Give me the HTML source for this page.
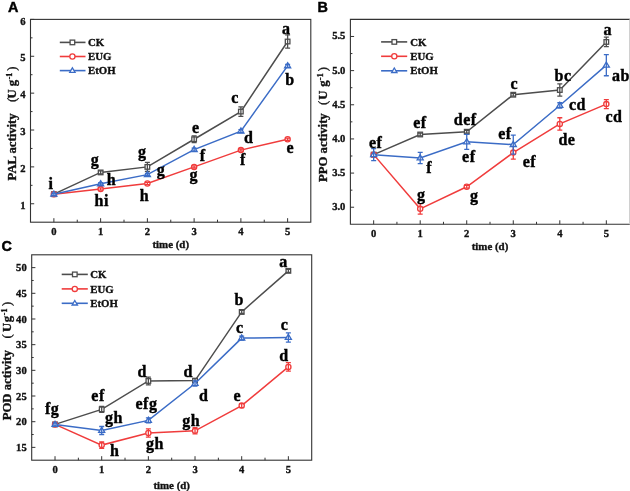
<!DOCTYPE html><html><head><meta charset="utf-8"><style>html,body{margin:0;padding:0;background:#fff;width:630px;height:491px;overflow:hidden}svg{display:block;will-change:transform}</style><style>.t{font-family:"Liberation Serif",serif;font-weight:bold;font-size:10.6px;fill:#111;stroke:#111;stroke-width:0.35px}.tt{font-family:"Liberation Serif",serif;font-weight:bold;font-size:10.9px;fill:#111;stroke:#111;stroke-width:0.35px}.lb{font-family:"Liberation Serif",serif;font-weight:bold;font-size:16px;fill:#000;stroke:#000;stroke-width:0.4px;letter-spacing:0.5px}.lg{font-family:"Liberation Serif",serif;font-weight:bold;font-size:10.8px;fill:#111;stroke:#111;stroke-width:0.35px}.yt{font-family:"Liberation Serif",serif;font-weight:bold;font-size:12.7px;fill:#111;stroke:#111;stroke-width:0.35px}.pl{font-family:"Liberation Sans",sans-serif;font-weight:bold;font-size:14.4px;fill:#000;stroke:#000;stroke-width:0.45px}</style></head><body>
<svg width="630" height="491" viewBox="0 0 630 491">
<rect width="630" height="491" fill="#fff"/>
<rect x="30.50" y="19.40" width="280.30" height="202.80" fill="none" stroke="#333333" stroke-width="1.1"/>
<line x1="53.88" y1="222.20" x2="53.88" y2="218.20" stroke="#333333" stroke-width="1"/>
<text x="53.88" y="234.80" text-anchor="middle" class="t">0</text>
<line x1="100.62" y1="222.20" x2="100.62" y2="218.20" stroke="#333333" stroke-width="1"/>
<text x="100.62" y="234.80" text-anchor="middle" class="t">1</text>
<line x1="147.38" y1="222.20" x2="147.38" y2="218.20" stroke="#333333" stroke-width="1"/>
<text x="147.38" y="234.80" text-anchor="middle" class="t">2</text>
<line x1="194.12" y1="222.20" x2="194.12" y2="218.20" stroke="#333333" stroke-width="1"/>
<text x="194.12" y="234.80" text-anchor="middle" class="t">3</text>
<line x1="240.88" y1="222.20" x2="240.88" y2="218.20" stroke="#333333" stroke-width="1"/>
<text x="240.88" y="234.80" text-anchor="middle" class="t">4</text>
<line x1="287.62" y1="222.20" x2="287.62" y2="218.20" stroke="#333333" stroke-width="1"/>
<text x="287.62" y="234.80" text-anchor="middle" class="t">5</text>
<line x1="77.25" y1="222.20" x2="77.25" y2="219.70" stroke="#333333" stroke-width="1"/>
<line x1="124.00" y1="222.20" x2="124.00" y2="219.70" stroke="#333333" stroke-width="1"/>
<line x1="170.75" y1="222.20" x2="170.75" y2="219.70" stroke="#333333" stroke-width="1"/>
<line x1="217.50" y1="222.20" x2="217.50" y2="219.70" stroke="#333333" stroke-width="1"/>
<line x1="264.25" y1="222.20" x2="264.25" y2="219.70" stroke="#333333" stroke-width="1"/>
<line x1="30.50" y1="203.76" x2="34.20" y2="203.76" stroke="#333333" stroke-width="1"/>
<text x="25.50" y="208.96" text-anchor="end" class="t">1</text>
<line x1="30.50" y1="166.89" x2="34.20" y2="166.89" stroke="#333333" stroke-width="1"/>
<text x="25.50" y="172.09" text-anchor="end" class="t">2</text>
<line x1="30.50" y1="130.02" x2="34.20" y2="130.02" stroke="#333333" stroke-width="1"/>
<text x="25.50" y="135.22" text-anchor="end" class="t">3</text>
<line x1="30.50" y1="93.15" x2="34.20" y2="93.15" stroke="#333333" stroke-width="1"/>
<text x="25.50" y="98.35" text-anchor="end" class="t">4</text>
<line x1="30.50" y1="56.27" x2="34.20" y2="56.27" stroke="#333333" stroke-width="1"/>
<text x="25.50" y="61.47" text-anchor="end" class="t">5</text>
<line x1="30.50" y1="19.40" x2="34.20" y2="19.40" stroke="#333333" stroke-width="1"/>
<text x="25.50" y="24.60" text-anchor="end" class="t">6</text>
<line x1="30.50" y1="185.33" x2="32.50" y2="185.33" stroke="#333333" stroke-width="1"/>
<line x1="30.50" y1="148.45" x2="32.50" y2="148.45" stroke="#333333" stroke-width="1"/>
<line x1="30.50" y1="111.58" x2="32.50" y2="111.58" stroke="#333333" stroke-width="1"/>
<line x1="30.50" y1="74.71" x2="32.50" y2="74.71" stroke="#333333" stroke-width="1"/>
<line x1="30.50" y1="37.84" x2="32.50" y2="37.84" stroke="#333333" stroke-width="1"/>
<text x="170.75" y="247.70" text-anchor="middle" class="tt">time (d)</text>
<path d="M53.88 194.18 L100.62 172.42 L147.38 166.89 L194.12 139.24 L240.88 111.58 L287.62 41.52" fill="none" stroke="#4d4d4d" stroke-width="1.5"/>
<rect x="51.58" y="191.88" width="4.60" height="4.60" fill="#fff" stroke="#4d4d4d" stroke-width="1.3"/>
<rect x="98.33" y="170.12" width="4.60" height="4.60" fill="#fff" stroke="#4d4d4d" stroke-width="1.3"/>
<rect x="145.07" y="164.59" width="4.60" height="4.60" fill="#fff" stroke="#4d4d4d" stroke-width="1.3"/>
<rect x="191.82" y="136.94" width="4.60" height="4.60" fill="#fff" stroke="#4d4d4d" stroke-width="1.3"/>
<rect x="238.57" y="109.28" width="4.60" height="4.60" fill="#fff" stroke="#4d4d4d" stroke-width="1.3"/>
<rect x="285.32" y="39.22" width="4.60" height="4.60" fill="#fff" stroke="#4d4d4d" stroke-width="1.3"/>
<path d="M53.88 193.07V195.28M51.38 193.07H56.38M51.38 195.28H56.38" stroke="#4d4d4d" stroke-width="1.3" fill="none"/>
<path d="M100.62 170.95V173.90M98.12 170.95H103.12M98.12 173.90H103.12" stroke="#4d4d4d" stroke-width="1.3" fill="none"/>
<path d="M147.38 162.28V171.50M144.88 162.28H149.88M144.88 171.50H149.88" stroke="#4d4d4d" stroke-width="1.3" fill="none"/>
<path d="M194.12 135.92V142.55M191.62 135.92H196.62M191.62 142.55H196.62" stroke="#4d4d4d" stroke-width="1.3" fill="none"/>
<path d="M240.88 106.79V116.38M238.38 106.79H243.38M238.38 116.38H243.38" stroke="#4d4d4d" stroke-width="1.3" fill="none"/>
<path d="M287.62 34.89V48.16M285.12 34.89H290.12M285.12 48.16H290.12" stroke="#4d4d4d" stroke-width="1.3" fill="none"/>
<path d="M53.88 194.18 L100.62 189.01 L147.38 183.48 L194.12 166.89 L240.88 150.11 L287.62 139.24" fill="none" stroke="#f03c3c" stroke-width="1.5"/>
<circle cx="53.88" cy="194.18" r="2.60" fill="#fff" stroke="#f03c3c" stroke-width="1.3"/>
<circle cx="100.62" cy="189.01" r="2.60" fill="#fff" stroke="#f03c3c" stroke-width="1.3"/>
<circle cx="147.38" cy="183.48" r="2.60" fill="#fff" stroke="#f03c3c" stroke-width="1.3"/>
<circle cx="194.12" cy="166.89" r="2.60" fill="#fff" stroke="#f03c3c" stroke-width="1.3"/>
<circle cx="240.88" cy="150.11" r="2.60" fill="#fff" stroke="#f03c3c" stroke-width="1.3"/>
<circle cx="287.62" cy="139.24" r="2.60" fill="#fff" stroke="#f03c3c" stroke-width="1.3"/>
<path d="M53.88 193.07V195.28M51.38 193.07H56.38M51.38 195.28H56.38" stroke="#f03c3c" stroke-width="1.3" fill="none"/>
<path d="M100.62 187.91V190.12M98.12 187.91H103.12M98.12 190.12H103.12" stroke="#f03c3c" stroke-width="1.3" fill="none"/>
<path d="M147.38 182.38V184.59M144.88 182.38H149.88M144.88 184.59H149.88" stroke="#f03c3c" stroke-width="1.3" fill="none"/>
<path d="M194.12 165.78V168.00M191.62 165.78H196.62M191.62 168.00H196.62" stroke="#f03c3c" stroke-width="1.3" fill="none"/>
<path d="M240.88 149.01V151.22M238.38 149.01H243.38M238.38 151.22H243.38" stroke="#f03c3c" stroke-width="1.3" fill="none"/>
<path d="M287.62 138.13V140.34M285.12 138.13H290.12M285.12 140.34H290.12" stroke="#f03c3c" stroke-width="1.3" fill="none"/>
<path d="M53.88 194.18 L100.62 183.85 L147.38 174.63 L194.12 149.56 L240.88 131.12 L287.62 65.86" fill="none" stroke="#3b6cc6" stroke-width="1.5"/>
<path d="M53.88 190.98L56.91 196.10L50.84 196.10Z" fill="#fff" stroke="#3b6cc6" stroke-width="1.3"/>
<path d="M100.62 180.65L103.67 185.77L97.58 185.77Z" fill="#fff" stroke="#3b6cc6" stroke-width="1.3"/>
<path d="M147.38 171.43L150.41 176.55L144.34 176.55Z" fill="#fff" stroke="#3b6cc6" stroke-width="1.3"/>
<path d="M194.12 146.36L197.16 151.48L191.09 151.48Z" fill="#fff" stroke="#3b6cc6" stroke-width="1.3"/>
<path d="M240.88 127.92L243.91 133.04L237.84 133.04Z" fill="#fff" stroke="#3b6cc6" stroke-width="1.3"/>
<path d="M287.62 62.66L290.67 67.78L284.58 67.78Z" fill="#fff" stroke="#3b6cc6" stroke-width="1.3"/>
<path d="M53.88 193.07V195.28M51.38 193.07H56.38M51.38 195.28H56.38" stroke="#3b6cc6" stroke-width="1.3" fill="none"/>
<path d="M100.62 182.75V184.96M98.12 182.75H103.12M98.12 184.96H103.12" stroke="#3b6cc6" stroke-width="1.3" fill="none"/>
<path d="M147.38 173.53V175.74M144.88 173.53H149.88M144.88 175.74H149.88" stroke="#3b6cc6" stroke-width="1.3" fill="none"/>
<path d="M194.12 148.09V151.04M191.62 148.09H196.62M191.62 151.04H196.62" stroke="#3b6cc6" stroke-width="1.3" fill="none"/>
<path d="M240.88 129.65V132.60M238.38 129.65H243.38M238.38 132.60H243.38" stroke="#3b6cc6" stroke-width="1.3" fill="none"/>
<path d="M287.62 64.38V67.33M285.12 64.38H290.12M285.12 67.33H290.12" stroke="#3b6cc6" stroke-width="1.3" fill="none"/>
<text x="51.10" y="188.55" text-anchor="middle" class="lb">i</text>
<text x="94.95" y="165.14" text-anchor="middle" class="lb">g</text>
<text x="111.35" y="184.75" text-anchor="middle" class="lb">h</text>
<text x="101.70" y="206.15" text-anchor="middle" class="lb">hi</text>
<text x="142.25" y="157.24" text-anchor="middle" class="lb">g</text>
<text x="161.05" y="175.09" text-anchor="middle" class="lb">g</text>
<text x="144.50" y="200.85" text-anchor="middle" class="lb">h</text>
<text x="195.85" y="132.94" text-anchor="middle" class="lb">e</text>
<text x="202.70" y="160.53" text-anchor="middle" class="lb">f</text>
<text x="193.85" y="179.64" text-anchor="middle" class="lb">g</text>
<text x="235.00" y="102.95" text-anchor="middle" class="lb">c</text>
<text x="248.75" y="142.72" text-anchor="middle" class="lb">d</text>
<text x="242.80" y="165.33" text-anchor="middle" class="lb">f</text>
<text x="286.30" y="33.72" text-anchor="middle" class="lb">a</text>
<text x="289.90" y="85.47" text-anchor="middle" class="lb">b</text>
<text x="290.40" y="152.84" text-anchor="middle" class="lb">e</text>
<line x1="59.80" y1="42.40" x2="85.50" y2="42.40" stroke="#4d4d4d" stroke-width="1.6"/>
<rect x="70.10" y="40.10" width="4.60" height="4.60" fill="#fff" stroke="#4d4d4d" stroke-width="1.3"/>
<text x="88.00" y="46.00" class="lg">CK</text>
<line x1="59.80" y1="56.50" x2="85.50" y2="56.50" stroke="#f03c3c" stroke-width="1.6"/>
<circle cx="72.40" cy="56.50" r="2.60" fill="#fff" stroke="#f03c3c" stroke-width="1.3"/>
<text x="88.00" y="60.10" class="lg">EUG</text>
<line x1="59.80" y1="70.60" x2="85.50" y2="70.60" stroke="#3b6cc6" stroke-width="1.6"/>
<path d="M72.40 67.80L75.06 72.28L69.74 72.28Z" fill="#fff" stroke="#3b6cc6" stroke-width="1.3"/>
<text x="88.00" y="74.20" class="lg">EtOH</text>
<text transform="translate(15.80,180.40) rotate(-90)" class="yt">PAL activity<tspan dx="11.3" font-weight="normal">(</tspan><tspan dx="-0.6">U</tspan><tspan dx="3.05">g</tspan><tspan dy="-4" dx="0.5" font-size="8">-1</tspan><tspan dy="4" dx="2" font-weight="normal">)</tspan></text>
<text x="7.90" y="12.00" class="pl">A</text>
<path d="M630.50 19.40H350.40V224.30H630.5" fill="none" stroke="#333333" stroke-width="1.1"/>
<line x1="629.5" y1="19.40" x2="629.5" y2="224.30" stroke="#d0d0d0" stroke-width="1"/>
<line x1="373.67" y1="224.30" x2="373.67" y2="220.30" stroke="#333333" stroke-width="1"/>
<text x="373.67" y="236.90" text-anchor="middle" class="t">0</text>
<line x1="420.20" y1="224.30" x2="420.20" y2="220.30" stroke="#333333" stroke-width="1"/>
<text x="420.20" y="236.90" text-anchor="middle" class="t">1</text>
<line x1="466.73" y1="224.30" x2="466.73" y2="220.30" stroke="#333333" stroke-width="1"/>
<text x="466.73" y="236.90" text-anchor="middle" class="t">2</text>
<line x1="513.27" y1="224.30" x2="513.27" y2="220.30" stroke="#333333" stroke-width="1"/>
<text x="513.27" y="236.90" text-anchor="middle" class="t">3</text>
<line x1="559.80" y1="224.30" x2="559.80" y2="220.30" stroke="#333333" stroke-width="1"/>
<text x="559.80" y="236.90" text-anchor="middle" class="t">4</text>
<line x1="606.33" y1="224.30" x2="606.33" y2="220.30" stroke="#333333" stroke-width="1"/>
<text x="606.33" y="236.90" text-anchor="middle" class="t">5</text>
<line x1="396.93" y1="224.30" x2="396.93" y2="221.80" stroke="#333333" stroke-width="1"/>
<line x1="443.47" y1="224.30" x2="443.47" y2="221.80" stroke="#333333" stroke-width="1"/>
<line x1="490.00" y1="224.30" x2="490.00" y2="221.80" stroke="#333333" stroke-width="1"/>
<line x1="536.53" y1="224.30" x2="536.53" y2="221.80" stroke="#333333" stroke-width="1"/>
<line x1="583.07" y1="224.30" x2="583.07" y2="221.80" stroke="#333333" stroke-width="1"/>
<line x1="350.40" y1="207.23" x2="354.10" y2="207.23" stroke="#333333" stroke-width="1"/>
<text x="345.40" y="210.23" text-anchor="end" class="t">3.0</text>
<line x1="350.40" y1="173.08" x2="354.10" y2="173.08" stroke="#333333" stroke-width="1"/>
<text x="345.40" y="176.08" text-anchor="end" class="t">3.5</text>
<line x1="350.40" y1="138.93" x2="354.10" y2="138.93" stroke="#333333" stroke-width="1"/>
<text x="345.40" y="141.93" text-anchor="end" class="t">4.0</text>
<line x1="350.40" y1="104.78" x2="354.10" y2="104.78" stroke="#333333" stroke-width="1"/>
<text x="345.40" y="107.78" text-anchor="end" class="t">4.5</text>
<line x1="350.40" y1="70.62" x2="354.10" y2="70.62" stroke="#333333" stroke-width="1"/>
<text x="345.40" y="73.62" text-anchor="end" class="t">5.0</text>
<line x1="350.40" y1="36.48" x2="354.10" y2="36.48" stroke="#333333" stroke-width="1"/>
<text x="345.40" y="39.48" text-anchor="end" class="t">5.5</text>
<line x1="350.40" y1="190.15" x2="352.40" y2="190.15" stroke="#333333" stroke-width="1"/>
<line x1="350.40" y1="156.00" x2="352.40" y2="156.00" stroke="#333333" stroke-width="1"/>
<line x1="350.40" y1="121.85" x2="352.40" y2="121.85" stroke="#333333" stroke-width="1"/>
<line x1="350.40" y1="87.70" x2="352.40" y2="87.70" stroke="#333333" stroke-width="1"/>
<line x1="350.40" y1="53.55" x2="352.40" y2="53.55" stroke="#333333" stroke-width="1"/>
<text x="490.00" y="250.20" text-anchor="middle" class="tt">time (d)</text>
<path d="M373.67 154.63 L420.20 134.49 L466.73 131.75 L513.27 94.73 L559.80 90.02 L606.33 41.94" fill="none" stroke="#4d4d4d" stroke-width="1.5"/>
<rect x="371.37" y="152.33" width="4.60" height="4.60" fill="#fff" stroke="#4d4d4d" stroke-width="1.3"/>
<rect x="417.90" y="132.19" width="4.60" height="4.60" fill="#fff" stroke="#4d4d4d" stroke-width="1.3"/>
<rect x="464.43" y="129.45" width="4.60" height="4.60" fill="#fff" stroke="#4d4d4d" stroke-width="1.3"/>
<rect x="510.97" y="92.43" width="4.60" height="4.60" fill="#fff" stroke="#4d4d4d" stroke-width="1.3"/>
<rect x="557.50" y="87.72" width="4.60" height="4.60" fill="#fff" stroke="#4d4d4d" stroke-width="1.3"/>
<rect x="604.03" y="39.64" width="4.60" height="4.60" fill="#fff" stroke="#4d4d4d" stroke-width="1.3"/>
<path d="M373.67 152.59V156.68M371.17 152.59H376.17M371.17 156.68H376.17" stroke="#4d4d4d" stroke-width="1.3" fill="none"/>
<path d="M420.20 133.12V135.85M417.70 133.12H422.70M417.70 135.85H422.70" stroke="#4d4d4d" stroke-width="1.3" fill="none"/>
<path d="M466.73 130.39V133.12M464.23 130.39H469.23M464.23 133.12H469.23" stroke="#4d4d4d" stroke-width="1.3" fill="none"/>
<path d="M513.27 93.37V96.10M510.77 93.37H515.77M510.77 96.10H515.77" stroke="#4d4d4d" stroke-width="1.3" fill="none"/>
<path d="M559.80 83.88V96.17M557.30 83.88H562.30M557.30 96.17H562.30" stroke="#4d4d4d" stroke-width="1.3" fill="none"/>
<path d="M606.33 37.16V46.72M603.83 37.16H608.83M603.83 46.72H608.83" stroke="#4d4d4d" stroke-width="1.3" fill="none"/>
<path d="M373.67 154.63 L420.20 208.86 L466.73 186.74 L513.27 152.59 L559.80 123.90 L606.33 104.09" fill="none" stroke="#f03c3c" stroke-width="1.5"/>
<circle cx="373.67" cy="154.63" r="2.60" fill="#fff" stroke="#f03c3c" stroke-width="1.3"/>
<circle cx="420.20" cy="208.86" r="2.60" fill="#fff" stroke="#f03c3c" stroke-width="1.3"/>
<circle cx="466.73" cy="186.74" r="2.60" fill="#fff" stroke="#f03c3c" stroke-width="1.3"/>
<circle cx="513.27" cy="152.59" r="2.60" fill="#fff" stroke="#f03c3c" stroke-width="1.3"/>
<circle cx="559.80" cy="123.90" r="2.60" fill="#fff" stroke="#f03c3c" stroke-width="1.3"/>
<circle cx="606.33" cy="104.09" r="2.60" fill="#fff" stroke="#f03c3c" stroke-width="1.3"/>
<path d="M373.67 152.59V156.68M371.17 152.59H376.17M371.17 156.68H376.17" stroke="#f03c3c" stroke-width="1.3" fill="none"/>
<path d="M420.20 203.54V214.19M417.70 203.54H422.70M417.70 214.19H422.70" stroke="#f03c3c" stroke-width="1.3" fill="none"/>
<path d="M466.73 185.37V188.10M464.23 185.37H469.23M464.23 188.10H469.23" stroke="#f03c3c" stroke-width="1.3" fill="none"/>
<path d="M513.27 145.96V159.21M510.77 145.96H515.77M510.77 159.21H515.77" stroke="#f03c3c" stroke-width="1.3" fill="none"/>
<path d="M559.80 117.75V130.05M557.30 117.75H562.30M557.30 130.05H562.30" stroke="#f03c3c" stroke-width="1.3" fill="none"/>
<path d="M606.33 99.58V108.60M603.83 99.58H608.83M603.83 108.60H608.83" stroke="#f03c3c" stroke-width="1.3" fill="none"/>
<path d="M373.67 154.63 L420.20 158.05 L466.73 141.86 L513.27 144.59 L559.80 105.46 L606.33 65.16" fill="none" stroke="#3b6cc6" stroke-width="1.5"/>
<path d="M373.67 151.43L376.71 156.55L370.63 156.55Z" fill="#fff" stroke="#3b6cc6" stroke-width="1.3"/>
<path d="M420.20 154.85L423.24 159.97L417.16 159.97Z" fill="#fff" stroke="#3b6cc6" stroke-width="1.3"/>
<path d="M466.73 138.66L469.77 143.78L463.69 143.78Z" fill="#fff" stroke="#3b6cc6" stroke-width="1.3"/>
<path d="M513.27 141.39L516.31 146.51L510.23 146.51Z" fill="#fff" stroke="#3b6cc6" stroke-width="1.3"/>
<path d="M559.80 102.26L562.84 107.38L556.76 107.38Z" fill="#fff" stroke="#3b6cc6" stroke-width="1.3"/>
<path d="M606.33 61.96L609.37 67.08L603.29 67.08Z" fill="#fff" stroke="#3b6cc6" stroke-width="1.3"/>
<path d="M373.67 148.69V160.58M371.17 148.69H376.17M371.17 160.58H376.17" stroke="#3b6cc6" stroke-width="1.3" fill="none"/>
<path d="M420.20 152.45V163.65M417.70 152.45H422.70M417.70 163.65H422.70" stroke="#3b6cc6" stroke-width="1.3" fill="none"/>
<path d="M466.73 134.35V149.37M464.23 134.35H469.23M464.23 149.37H469.23" stroke="#3b6cc6" stroke-width="1.3" fill="none"/>
<path d="M513.27 135.03V154.16M510.77 135.03H515.77M510.77 154.16H515.77" stroke="#3b6cc6" stroke-width="1.3" fill="none"/>
<path d="M559.80 102.73V108.19M557.30 102.73H562.30M557.30 108.19H562.30" stroke="#3b6cc6" stroke-width="1.3" fill="none"/>
<path d="M606.33 54.57V75.75M603.83 54.57H608.83M603.83 75.75H608.83" stroke="#3b6cc6" stroke-width="1.3" fill="none"/>
<text x="375.60" y="148.46" text-anchor="middle" class="lb">ef</text>
<text x="419.85" y="128.06" text-anchor="middle" class="lb">ef</text>
<text x="429.10" y="173.48" text-anchor="middle" class="lb">f</text>
<text x="421.25" y="199.94" text-anchor="middle" class="lb">g</text>
<text x="465.20" y="124.90" text-anchor="middle" class="lb">def</text>
<text x="468.75" y="161.56" text-anchor="middle" class="lb">ef</text>
<text x="474.25" y="201.04" text-anchor="middle" class="lb">g</text>
<text x="514.30" y="89.20" text-anchor="middle" class="lb">c</text>
<text x="504.85" y="139.16" text-anchor="middle" class="lb">ef</text>
<text x="529.35" y="166.86" text-anchor="middle" class="lb">ef</text>
<text x="563.00" y="81.07" text-anchor="middle" class="lb">bc</text>
<text x="577.50" y="110.47" text-anchor="middle" class="lb">cd</text>
<text x="566.95" y="145.12" text-anchor="middle" class="lb">de</text>
<text x="607.80" y="35.02" text-anchor="middle" class="lb">a</text>
<text x="620.85" y="80.82" text-anchor="middle" class="lb">ab</text>
<text x="613.95" y="122.12" text-anchor="middle" class="lb">cd</text>
<line x1="381.10" y1="41.90" x2="407.20" y2="41.90" stroke="#4d4d4d" stroke-width="1.6"/>
<rect x="392.00" y="39.60" width="4.60" height="4.60" fill="#fff" stroke="#4d4d4d" stroke-width="1.3"/>
<text x="410.30" y="45.50" class="lg">CK</text>
<line x1="381.10" y1="56.30" x2="407.20" y2="56.30" stroke="#f03c3c" stroke-width="1.6"/>
<circle cx="394.30" cy="56.30" r="2.60" fill="#fff" stroke="#f03c3c" stroke-width="1.3"/>
<text x="410.30" y="59.90" class="lg">EUG</text>
<line x1="381.10" y1="70.80" x2="407.20" y2="70.80" stroke="#3b6cc6" stroke-width="1.6"/>
<path d="M394.30 68.00L396.96 72.48L391.64 72.48Z" fill="#fff" stroke="#3b6cc6" stroke-width="1.3"/>
<text x="410.30" y="74.40" class="lg">EtOH</text>
<text transform="translate(327.40,182.00) rotate(-90)" class="yt">PPO activity<tspan dx="8.3" font-weight="normal">(</tspan><tspan dx="1.0">U</tspan><tspan dx="3.75">g</tspan><tspan dy="-4" dx="0.5" font-size="8">-1</tspan><tspan dy="4" dx="2" font-weight="normal">)</tspan></text>
<text x="317.60" y="12.00" class="pl">B</text>
<rect x="31.70" y="254.80" width="280.00" height="205.40" fill="none" stroke="#333333" stroke-width="1.1"/>
<line x1="55.03" y1="460.20" x2="55.03" y2="456.20" stroke="#333333" stroke-width="1"/>
<text x="55.03" y="472.80" text-anchor="middle" class="t">0</text>
<line x1="101.70" y1="460.20" x2="101.70" y2="456.20" stroke="#333333" stroke-width="1"/>
<text x="101.70" y="472.80" text-anchor="middle" class="t">1</text>
<line x1="148.37" y1="460.20" x2="148.37" y2="456.20" stroke="#333333" stroke-width="1"/>
<text x="148.37" y="472.80" text-anchor="middle" class="t">2</text>
<line x1="195.03" y1="460.20" x2="195.03" y2="456.20" stroke="#333333" stroke-width="1"/>
<text x="195.03" y="472.80" text-anchor="middle" class="t">3</text>
<line x1="241.70" y1="460.20" x2="241.70" y2="456.20" stroke="#333333" stroke-width="1"/>
<text x="241.70" y="472.80" text-anchor="middle" class="t">4</text>
<line x1="288.37" y1="460.20" x2="288.37" y2="456.20" stroke="#333333" stroke-width="1"/>
<text x="288.37" y="472.80" text-anchor="middle" class="t">5</text>
<line x1="78.37" y1="460.20" x2="78.37" y2="457.70" stroke="#333333" stroke-width="1"/>
<line x1="125.03" y1="460.20" x2="125.03" y2="457.70" stroke="#333333" stroke-width="1"/>
<line x1="171.70" y1="460.20" x2="171.70" y2="457.70" stroke="#333333" stroke-width="1"/>
<line x1="218.37" y1="460.20" x2="218.37" y2="457.70" stroke="#333333" stroke-width="1"/>
<line x1="265.03" y1="460.20" x2="265.03" y2="457.70" stroke="#333333" stroke-width="1"/>
<line x1="31.70" y1="447.36" x2="35.40" y2="447.36" stroke="#333333" stroke-width="1"/>
<text x="26.70" y="451.16" text-anchor="end" class="t">15</text>
<line x1="31.70" y1="421.69" x2="35.40" y2="421.69" stroke="#333333" stroke-width="1"/>
<text x="26.70" y="425.49" text-anchor="end" class="t">20</text>
<line x1="31.70" y1="396.01" x2="35.40" y2="396.01" stroke="#333333" stroke-width="1"/>
<text x="26.70" y="399.81" text-anchor="end" class="t">25</text>
<line x1="31.70" y1="370.34" x2="35.40" y2="370.34" stroke="#333333" stroke-width="1"/>
<text x="26.70" y="374.14" text-anchor="end" class="t">30</text>
<line x1="31.70" y1="344.66" x2="35.40" y2="344.66" stroke="#333333" stroke-width="1"/>
<text x="26.70" y="348.46" text-anchor="end" class="t">35</text>
<line x1="31.70" y1="318.99" x2="35.40" y2="318.99" stroke="#333333" stroke-width="1"/>
<text x="26.70" y="322.79" text-anchor="end" class="t">40</text>
<line x1="31.70" y1="293.31" x2="35.40" y2="293.31" stroke="#333333" stroke-width="1"/>
<text x="26.70" y="297.11" text-anchor="end" class="t">45</text>
<line x1="31.70" y1="267.64" x2="35.40" y2="267.64" stroke="#333333" stroke-width="1"/>
<text x="26.70" y="271.44" text-anchor="end" class="t">50</text>
<line x1="31.70" y1="434.52" x2="33.70" y2="434.52" stroke="#333333" stroke-width="1"/>
<line x1="31.70" y1="408.85" x2="33.70" y2="408.85" stroke="#333333" stroke-width="1"/>
<line x1="31.70" y1="383.18" x2="33.70" y2="383.18" stroke="#333333" stroke-width="1"/>
<line x1="31.70" y1="357.50" x2="33.70" y2="357.50" stroke="#333333" stroke-width="1"/>
<line x1="31.70" y1="331.82" x2="33.70" y2="331.82" stroke="#333333" stroke-width="1"/>
<line x1="31.70" y1="306.15" x2="33.70" y2="306.15" stroke="#333333" stroke-width="1"/>
<line x1="31.70" y1="280.48" x2="33.70" y2="280.48" stroke="#333333" stroke-width="1"/>
<text x="171.70" y="488.60" text-anchor="middle" class="tt">time (d)</text>
<path d="M55.03 424.41 L101.70 409.36 L148.37 380.97 L195.03 380.61 L241.70 311.95 L288.37 270.87" fill="none" stroke="#4d4d4d" stroke-width="1.5"/>
<rect x="52.73" y="422.11" width="4.60" height="4.60" fill="#fff" stroke="#4d4d4d" stroke-width="1.3"/>
<rect x="99.40" y="407.06" width="4.60" height="4.60" fill="#fff" stroke="#4d4d4d" stroke-width="1.3"/>
<rect x="146.07" y="378.67" width="4.60" height="4.60" fill="#fff" stroke="#4d4d4d" stroke-width="1.3"/>
<rect x="192.73" y="378.31" width="4.60" height="4.60" fill="#fff" stroke="#4d4d4d" stroke-width="1.3"/>
<rect x="239.40" y="309.65" width="4.60" height="4.60" fill="#fff" stroke="#4d4d4d" stroke-width="1.3"/>
<rect x="286.07" y="268.57" width="4.60" height="4.60" fill="#fff" stroke="#4d4d4d" stroke-width="1.3"/>
<path d="M55.03 422.87V425.95M52.53 422.87H57.53M52.53 425.95H57.53" stroke="#4d4d4d" stroke-width="1.3" fill="none"/>
<path d="M101.70 406.28V412.44M99.20 406.28H104.20M99.20 412.44H104.20" stroke="#4d4d4d" stroke-width="1.3" fill="none"/>
<path d="M148.37 377.12V384.82M145.87 377.12H150.87M145.87 384.82H150.87" stroke="#4d4d4d" stroke-width="1.3" fill="none"/>
<path d="M195.03 378.55V382.66M192.53 378.55H197.53M192.53 382.66H197.53" stroke="#4d4d4d" stroke-width="1.3" fill="none"/>
<path d="M241.70 310.41V313.49M239.20 310.41H244.20M239.20 313.49H244.20" stroke="#4d4d4d" stroke-width="1.3" fill="none"/>
<path d="M288.37 269.33V272.41M285.87 269.33H290.87M285.87 272.41H290.87" stroke="#4d4d4d" stroke-width="1.3" fill="none"/>
<path d="M55.03 424.41 L101.70 445.10 L148.37 432.93 L195.03 430.83 L241.70 405.61 L288.37 366.90" fill="none" stroke="#f03c3c" stroke-width="1.5"/>
<circle cx="55.03" cy="424.41" r="2.60" fill="#fff" stroke="#f03c3c" stroke-width="1.3"/>
<circle cx="101.70" cy="445.10" r="2.60" fill="#fff" stroke="#f03c3c" stroke-width="1.3"/>
<circle cx="148.37" cy="432.93" r="2.60" fill="#fff" stroke="#f03c3c" stroke-width="1.3"/>
<circle cx="195.03" cy="430.83" r="2.60" fill="#fff" stroke="#f03c3c" stroke-width="1.3"/>
<circle cx="241.70" cy="405.61" r="2.60" fill="#fff" stroke="#f03c3c" stroke-width="1.3"/>
<circle cx="288.37" cy="366.90" r="2.60" fill="#fff" stroke="#f03c3c" stroke-width="1.3"/>
<path d="M55.03 422.87V425.95M52.53 422.87H57.53M52.53 425.95H57.53" stroke="#f03c3c" stroke-width="1.3" fill="none"/>
<path d="M101.70 441.92V448.29M99.20 441.92H104.20M99.20 448.29H104.20" stroke="#f03c3c" stroke-width="1.3" fill="none"/>
<path d="M148.37 428.83V437.04M145.87 428.83H150.87M145.87 437.04H150.87" stroke="#f03c3c" stroke-width="1.3" fill="none"/>
<path d="M195.03 427.75V433.91M192.53 427.75H197.53M192.53 433.91H197.53" stroke="#f03c3c" stroke-width="1.3" fill="none"/>
<path d="M241.70 403.56V407.67M239.20 403.56H244.20M239.20 407.67H244.20" stroke="#f03c3c" stroke-width="1.3" fill="none"/>
<path d="M288.37 362.63V371.16M285.87 362.63H290.87M285.87 371.16H290.87" stroke="#f03c3c" stroke-width="1.3" fill="none"/>
<path d="M55.03 424.41 L101.70 430.52 L148.37 420.40 L195.03 383.48 L241.70 338.09 L288.37 337.47" fill="none" stroke="#3b6cc6" stroke-width="1.5"/>
<path d="M55.03 421.21L58.07 426.33L51.99 426.33Z" fill="#fff" stroke="#3b6cc6" stroke-width="1.3"/>
<path d="M101.70 427.32L104.74 432.44L98.66 432.44Z" fill="#fff" stroke="#3b6cc6" stroke-width="1.3"/>
<path d="M148.37 417.20L151.41 422.32L145.33 422.32Z" fill="#fff" stroke="#3b6cc6" stroke-width="1.3"/>
<path d="M195.03 380.28L198.07 385.40L191.99 385.40Z" fill="#fff" stroke="#3b6cc6" stroke-width="1.3"/>
<path d="M241.70 334.89L244.74 340.01L238.66 340.01Z" fill="#fff" stroke="#3b6cc6" stroke-width="1.3"/>
<path d="M288.37 334.27L291.41 339.39L285.33 339.39Z" fill="#fff" stroke="#3b6cc6" stroke-width="1.3"/>
<path d="M55.03 422.87V425.95M52.53 422.87H57.53M52.53 425.95H57.53" stroke="#3b6cc6" stroke-width="1.3" fill="none"/>
<path d="M101.70 426.51V434.52M99.20 426.51H104.20M99.20 434.52H104.20" stroke="#3b6cc6" stroke-width="1.3" fill="none"/>
<path d="M148.37 417.84V422.97M145.87 417.84H150.87M145.87 422.97H150.87" stroke="#3b6cc6" stroke-width="1.3" fill="none"/>
<path d="M195.03 380.92V386.05M192.53 380.92H197.53M192.53 386.05H197.53" stroke="#3b6cc6" stroke-width="1.3" fill="none"/>
<path d="M241.70 336.04V340.14M239.20 336.04H244.20M239.20 340.14H244.20" stroke="#3b6cc6" stroke-width="1.3" fill="none"/>
<path d="M288.37 332.85V342.10M285.87 332.85H290.87M285.87 342.10H290.87" stroke="#3b6cc6" stroke-width="1.3" fill="none"/>
<text x="52.20" y="413.71" text-anchor="middle" class="lb">fg</text>
<text x="98.00" y="401.06" text-anchor="middle" class="lb">ef</text>
<text x="114.05" y="423.28" text-anchor="middle" class="lb">gh</text>
<text x="114.65" y="455.70" text-anchor="middle" class="lb">h</text>
<text x="142.30" y="376.72" text-anchor="middle" class="lb">d</text>
<text x="146.45" y="409.16" text-anchor="middle" class="lb">efg</text>
<text x="155.00" y="449.43" text-anchor="middle" class="lb">gh</text>
<text x="188.10" y="376.72" text-anchor="middle" class="lb">d</text>
<text x="203.65" y="401.47" text-anchor="middle" class="lb">d</text>
<text x="191.25" y="426.18" text-anchor="middle" class="lb">gh</text>
<text x="239.25" y="304.77" text-anchor="middle" class="lb">b</text>
<text x="239.80" y="333.05" text-anchor="middle" class="lb">c</text>
<text x="237.40" y="400.74" text-anchor="middle" class="lb">e</text>
<text x="283.55" y="266.77" text-anchor="middle" class="lb">a</text>
<text x="284.60" y="330.20" text-anchor="middle" class="lb">c</text>
<text x="284.05" y="361.27" text-anchor="middle" class="lb">d</text>
<line x1="61.70" y1="274.40" x2="87.80" y2="274.40" stroke="#4d4d4d" stroke-width="1.6"/>
<rect x="72.50" y="272.10" width="4.60" height="4.60" fill="#fff" stroke="#4d4d4d" stroke-width="1.3"/>
<text x="90.30" y="278.00" class="lg">CK</text>
<line x1="61.70" y1="288.90" x2="87.80" y2="288.90" stroke="#f03c3c" stroke-width="1.6"/>
<circle cx="74.80" cy="288.90" r="2.60" fill="#fff" stroke="#f03c3c" stroke-width="1.3"/>
<text x="90.30" y="292.50" class="lg">EUG</text>
<line x1="61.70" y1="303.30" x2="87.80" y2="303.30" stroke="#3b6cc6" stroke-width="1.6"/>
<path d="M74.80 300.50L77.46 304.98L72.14 304.98Z" fill="#fff" stroke="#3b6cc6" stroke-width="1.3"/>
<text x="90.30" y="306.90" class="lg">EtOH</text>
<text transform="translate(11.40,420.30) rotate(-90)" class="yt">POD activity<tspan dx="11.65" font-weight="normal">(</tspan><tspan dx="2.4">U</tspan><tspan dx="0.6">g</tspan><tspan dy="-4" dx="0.5" font-size="8">-1</tspan><tspan dy="4" dx="2.6" font-weight="normal">)</tspan></text>
<text x="1.60" y="251.00" class="pl">C</text>
</svg>
</body></html>
